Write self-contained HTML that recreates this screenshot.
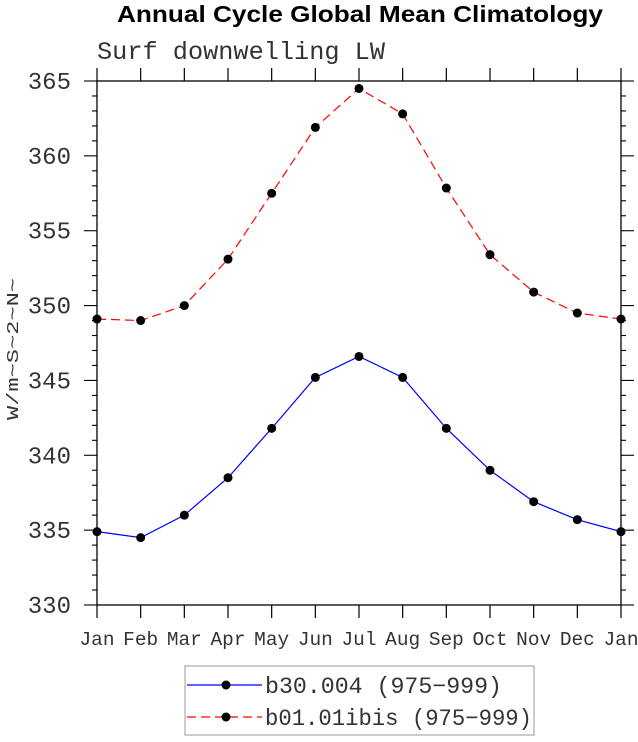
<!DOCTYPE html>
<html><head><meta charset="utf-8"><style>
body{margin:0;background:#fff;}
svg text{font-family:"Liberation Mono",monospace;fill:#333;}
</style></head><body>
<svg id="c" width="638" height="737" viewBox="0 0 638 737" xmlns="http://www.w3.org/2000/svg">
<text x="117" y="22" textLength="486" lengthAdjust="spacingAndGlyphs" style="font-family:'Liberation Sans',sans-serif;font-weight:bold;font-size:23px;fill:#000">Annual Cycle Global Mean Climatology</text>
<text x="97" y="59" textLength="288" lengthAdjust="spacingAndGlyphs" style="font-size:25px">Surf downwelling LW</text>
<text transform="translate(18,349) rotate(-90)" text-anchor="middle" textLength="142" lengthAdjust="spacingAndGlyphs" style="font-size:17px">W/m~S~2~N~</text>
<g id="axes"></g>
<g id="series"></g>
<g id="legend"></g>
</svg>
<script>
const months=["Jan","Feb","Mar","Apr","May","Jun","Jul","Aug","Sep","Oct","Nov","Dec","Jan"];
const yTicks=[330,335,340,345,350,355,360,365];
const blueVals=[334.9,334.5,336.0,338.5,341.8,345.2,346.6,345.2,341.8,339.0,336.9,335.7,334.9];
const redVals=[349.1,349.0,350.0,353.1,357.5,361.9,364.5,362.8,357.85,353.4,350.9,349.5,349.1];
const seriesNames=["b30.004 (975\u2212999)","b01.01ibis (975\u2212999)"];

const L=97,R=621,T=81,B=605,ymin=330,ymax=365;
const xs=i=>L+(R-L)*i/(months.length-1);
const ys=v=>B-(v-ymin)/(ymax-ymin)*(B-T);
const NS="http://www.w3.org/2000/svg";
function mk(tag,attrs,parent){const e=document.createElementNS(NS,tag);for(const k in attrs)e.setAttribute(k,attrs[k]);parent.appendChild(e);return e;}
const ax=document.getElementById('axes');
const frame=mk('rect',{x:L,y:T,width:R-L,height:B-T,fill:'none',stroke:'#000','stroke-width':1.3},ax);


months.forEach((m,i)=>{
  const x=xs(i);
  const t1=mk('line',{x1:x,x2:x,y1:B,y2:B+13,stroke:'#000','stroke-width':1.2},ax);
  
  
  mk('line',{x1:x,x2:x,y1:T,y2:T-13,stroke:'#000','stroke-width':1.2},ax);
  const tl=mk('text',{x:x,y:645,'text-anchor':'middle','font-size':19,textLength:35,lengthAdjust:'spacingAndGlyphs'},ax);
  tl.textContent=m;
  
  
});
for(let v=ymin;v<=ymax;v++){
  const y=ys(v);const major=(v%5===0);const len=major?13:5;
  mk('line',{x1:L-len,x2:L,y1:y,y2:y,stroke:'#000','stroke-width':1.1},ax);
  mk('line',{x1:R,x2:R+len,y1:y,y2:y,stroke:'#000','stroke-width':1.1},ax);
}
yTicks.forEach(v=>{
  const tl=mk('text',{x:71,y:ys(v)+8,'text-anchor':'end','font-size':24},ax);
  tl.textContent=v;
  
  
});
const sg=document.getElementById('series');
function drawSeries(vals,color,dash,name){
  const g=mk('g',{},sg);
  
  
  const p=mk('polyline',{points:vals.map((v,i)=>xs(i)+','+ys(v)).join(' '),fill:'none',stroke:color,'stroke-width':1.2,'stroke-dasharray':dash},g);
  
  
  vals.forEach((v,i)=>{
    const c=mk('circle',{cx:xs(i),cy:ys(v),r:4.5,fill:'#000'},g);
    
    
  });
}
drawSeries(blueVals,'#0000ff','none','series-b30');
drawSeries(redVals,'#ff0000','9,5','series-b01');
const lg=document.getElementById('legend');
const box=mk('rect',{x:185,y:666,width:349,height:69,fill:'#fff',stroke:'#999','stroke-width':1},lg);


[['#0000ff','none',685,237],['#ff0000','9,5',717,267]].forEach((s,i)=>{
  const g=mk('g',{},lg);
  
  
  mk('line',{x1:187,x2:262,y1:s[2],y2:s[2],stroke:s[0],'stroke-width':1.2,'stroke-dasharray':s[1]},g);
  mk('circle',{cx:226,cy:s[2],r:4.5,fill:'#000'},g);
  const t=mk('text',{x:265,y:s[2]+8,'font-size':23,textLength:s[3],lengthAdjust:'spacingAndGlyphs'},g);
  t.textContent=seriesNames[i];
});
</script>
</body></html>
